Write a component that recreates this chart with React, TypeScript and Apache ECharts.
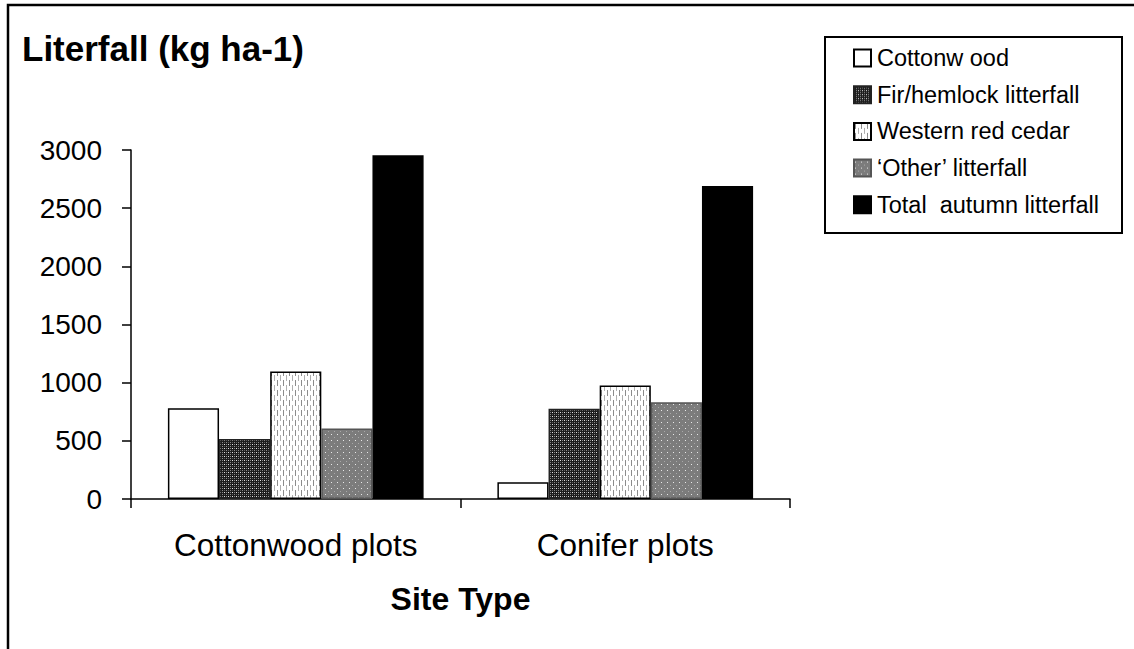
import React, { useEffect, useRef } from "react";
import * as echarts from "echarts";

const categories = ["Cottonwood plots", "Conifer plots"];
const seriesNames = [
  "Cottonw ood",
  "Fir/hemlock litterfall",
  "Western red cedar",
  "\u2018Other\u2019 litterfall",
  "Total  autumn litterfall",
];
const cottonwood = [780, 143];
const firHemlock = [515, 775];
const cedar = [1095, 975];
const other = [605, 832];
const total = [2955, 2690];
const yTicks = [0, 500, 1000, 1500, 2000, 2500, 3000];

function makeCanvas(w: number, h: number, draw: (c: CanvasRenderingContext2D) => void) {
  const cv = document.createElement("canvas");
  cv.width = w;
  cv.height = h;
  const ctx = cv.getContext("2d")!;
  draw(ctx);
  return cv;
}

export default function App() {
  const ref = useRef<HTMLDivElement>(null);
  useEffect(() => {
    if (!ref.current) return;
    const chart = echarts.init(ref.current, null, { renderer: "svg" });

    const firPat = makeCanvas(4, 4, (c) => {
      c.fillStyle = "#1c1c1c";
      c.fillRect(0, 0, 4, 4);
      c.fillStyle = "#e0e0e0";
      c.fillRect(0, 0, 1, 1);
      c.fillStyle = "#8a8a8a";
      c.fillRect(2, 2, 1, 1);
      c.fillRect(2, 0, 1, 1);
      c.fillStyle = "#5a5a5a";
      c.fillRect(0, 2, 1, 1);
    });
    const cedarPat = makeCanvas(6, 10, (c) => {
      c.fillStyle = "#ffffff";
      c.fillRect(0, 0, 6, 10);
      c.fillStyle = "#8c8c8c";
      c.fillRect(1, 0, 1, 6);
      c.fillStyle = "#b0b0b0";
      c.fillRect(4, 5, 1, 6);
      c.fillRect(4, 0, 1, 1);
    });
    const otherPat = makeCanvas(6, 6, (c) => {
      c.fillStyle = "#7c7c7c";
      c.fillRect(0, 0, 6, 6);
      c.fillStyle = "#e8e8e8";
      c.fillRect(1, 2, 1, 1);
      c.fillStyle = "#a8a8a8";
      c.fillRect(4, 5, 1, 1);
    });

    const fills: any[] = [
      "#ffffff",
      { image: firPat, repeat: "repeat" },
      { image: cedarPat, repeat: "repeat" },
      { image: otherPat, repeat: "repeat" },
      "#000000",
    ];
    const borders = ["#000", "#222", "#000", "#555", "#000"];
    const values = [cottonwood, firHemlock, cedar, other, total];

    const font = "'Liberation Sans', Arial, sans-serif";

    chart.setOption({
      animation: false,
      backgroundColor: "#ffffff",
      textStyle: { fontFamily: font, color: "#000" },
      grid: { left: 131, right: 344, top: 150, bottom: 150, containLabel: false },
      graphic: [
        {
          type: "polyline",
          shape: { points: [[8, 649], [8, 5], [1134, 5]] },
          style: { stroke: "#000", lineWidth: 2.5, fill: "none" },
        },
        {
          type: "rect",
          shape: { x: 825, y: 37, width: 297, height: 196 },
          style: { stroke: "#000", lineWidth: 2, fill: "#fff" },
          z: 0,
        },
        {
          type: "text",
          x: 22,
          y: 48,
          style: {
            text: "Literfall (kg ha-1)",
            font: `bold 35px ${font}`,
            fill: "#000",
            verticalAlign: "middle",
          },
        },
      ],
      legend: {
        orient: "vertical",
        left: 853,
        top: 46,
        itemWidth: 17,
        itemHeight: 17,
        itemGap: 12.7,
        padding: 0,
        textStyle: { fontSize: 23.5, fontFamily: font, color: "#000", lineHeight: 24, padding: [0, 0, 0, 1] },
        data: seriesNames.map((n) => ({ name: n, icon: "rect" })),
        z: 5,
      },
      xAxis: {
        type: "category",
        data: categories,
        axisLine: { lineStyle: { color: "#000", width: 1.5 } },
        axisTick: { show: true, length: 9, lineStyle: { color: "#000", width: 1.5 } },
        axisLabel: { fontSize: 31.5, color: "#000", margin: 30, fontFamily: font },
        name: "Site Type",
        nameLocation: "middle",
        nameGap: 84,
        nameTextStyle: { fontSize: 32, fontWeight: "bold", color: "#000", fontFamily: font },
      },
      yAxis: {
        type: "value",
        min: yTicks[0],
        max: yTicks[yTicks.length - 1],
        interval: 500,
        splitLine: { show: false },
        axisLine: { show: true, lineStyle: { color: "#000", width: 1.5 } },
        axisTick: { show: true, length: 9, lineStyle: { color: "#000", width: 1.5 } },
        axisLabel: {
          fontSize: 28,
          color: "#000",
          margin: 29,
          fontFamily: font,
          formatter: (v: number) => String(v),
        },
      },
      series: seriesNames.map((n, i) => ({
        name: n,
        type: "bar",
        data: values[i],
        barGap: "0%",
        barCategoryGap: "22.4%",
        itemStyle: { color: fills[i], borderColor: borders[i], borderWidth: 1.5 },
      })),
    });
    return () => chart.dispose();
  }, []);
  return (
    <div
      ref={ref}
      style={{ position: "fixed", left: 0, top: 0, width: 1134, height: 649, background: "#fff" }}
    />
  );
}
